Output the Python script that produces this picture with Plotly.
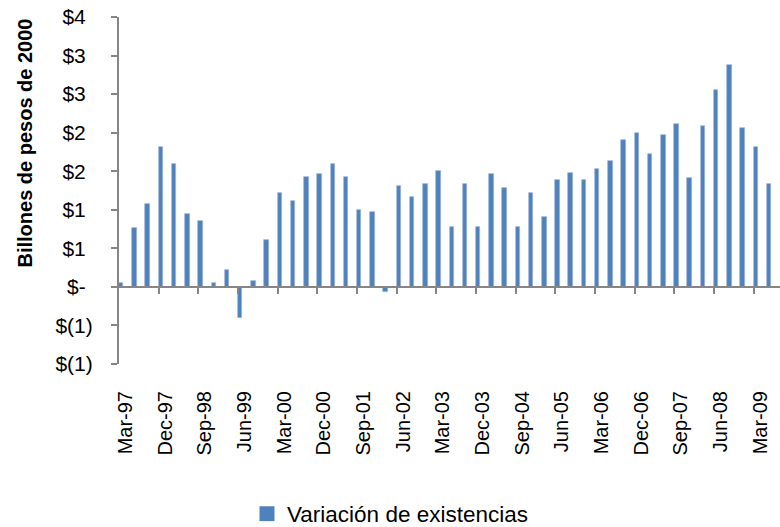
import plotly.graph_objects as go

quarters = [
    "Mar-97", "Jun-97", "Sep-97", "Dec-97", "Mar-98", "Jun-98", "Sep-98", "Dec-98",
    "Mar-99", "Jun-99", "Sep-99", "Dec-99", "Mar-00", "Jun-00", "Sep-00", "Dec-00",
    "Mar-01", "Jun-01", "Sep-01", "Dec-01", "Mar-02", "Jun-02", "Sep-02", "Dec-02",
    "Mar-03", "Jun-03", "Sep-03", "Dec-03", "Mar-04", "Jun-04", "Sep-04", "Dec-04",
    "Mar-05", "Jun-05", "Sep-05", "Dec-05", "Mar-06", "Jun-06", "Sep-06", "Dec-06",
    "Mar-07", "Jun-07", "Sep-07", "Dec-07", "Mar-08", "Jun-08", "Sep-08", "Dec-08",
    "Mar-09", "Jun-09",
]

variacion = [
    0.05, 0.76, 1.07, 1.82, 1.60, 0.95, 0.85, 0.05, 0.22, -0.40,
    0.08, 0.61, 1.22, 1.12, 1.43, 1.46, 1.60, 1.43, 1.00, 0.97,
    -0.06, 1.31, 1.16, 1.34, 1.50, 0.78, 1.34, 0.78, 1.46, 1.28,
    0.78, 1.22, 0.90, 1.38, 1.48, 1.38, 1.53, 1.63, 1.91, 1.99,
    1.72, 1.97, 2.11, 1.41, 2.09, 2.55, 2.88, 2.06, 1.82, 1.34,
]

x_tick_labels = quarters[::3]

y_tick_vals = [-1, -0.5, 0, 0.5, 1, 1.5, 2, 2.5, 3, 3.5]
y_tick_text = ["$(1)", "$(1)", "$-\u2004", "$1\u2004", "$1\u2004", "$2\u2004",
               "$2\u2004", "$3\u2004", "$3\u2004", "$4\u2004"]

series_name = "Variación de existencias"
y_title = "Billones de pesos de 2000"

BLUE = "#4F81BD"
AXIS = "#868686"
FONT = "Liberation Sans"

W, H = 780, 527
ML, MR, MT, MB = 119, 0, 17, 163
PW, PH = W - ML - MR, H - MT - MB

fig = go.Figure()

fig.add_trace(go.Bar(
    x=quarters, y=variacion, name=series_name,
    marker=dict(color=BLUE, line=dict(color="#9DB5DA", width=0.7)),
    width=0.34, offset=-0.5, showlegend=False,
))

# legend proxy
fig.add_trace(go.Scatter(
    x=[None], y=[None], mode="markers", name=series_name,
    marker=dict(symbol="square", size=15, color=BLUE),
))

# helper trace for the zero-crossing category axis ticks
fig.add_trace(go.Scatter(x=[], y=[], xaxis="x2", yaxis="y", showlegend=False,
                         hoverinfo="skip"))

n = len(quarters)
boundary_ticks = [i - 0.5 for i in range(3, n, 3)]

fig.update_layout(
    width=W, height=H,
    margin=dict(l=ML, r=MR, t=MT, b=MB, autoexpand=False),
    paper_bgcolor="white", plot_bgcolor="white",
    font=dict(family=FONT, color="black"),
    bargap=0,
    xaxis=dict(
        type="category", range=[-0.5, n - 0.5], automargin=False,
        tickmode="array", tickvals=x_tick_labels, ticktext=x_tick_labels,
        tickangle=-90, tickfont=dict(size=20, family=FONT),
        showline=False, showgrid=False, zeroline=False,
        ticks="", ticklabelstandoff=22,
    ),
    xaxis2=dict(
        overlaying="x", anchor="free", position=1 / 4.5, automargin=False,
        range=[-0.5, n - 0.5], showgrid=False, zeroline=False,
        showline=True, linecolor=AXIS, linewidth=2,
        ticks="outside", ticklen=6, tickwidth=2, tickcolor=AXIS,
        tickmode="array", tickvals=boundary_ticks, showticklabels=False,
    ),
    yaxis=dict(
        range=[-1, 3.5], automargin=False,
        tickmode="array", tickvals=y_tick_vals, ticktext=y_tick_text,
        tickfont=dict(size=21, family=FONT),
        showline=True, linecolor=AXIS, linewidth=2,
        ticks="outside", ticklen=6, tickwidth=2, tickcolor=AXIS,
        showgrid=False, zeroline=False, ticklabelstandoff=14,
    ),
    legend=dict(
        orientation="h", xref="container", yref="container",
        x=247 / W, xanchor="left",
        y=(H - 514) / H, yanchor="middle",
        font=dict(size=22.5, family=FONT),
    ),
    annotations=[dict(
        text="<b>" + y_title + "</b>", textangle=-90,
        xref="paper", yref="paper",
        x=(24 - ML) / PW, y=(MT + PH - 143.5) / PH,
        xanchor="center", yanchor="middle", showarrow=False,
        font=dict(size=20, family=FONT, color="black"),
    )],
)

fig.write_html(
    "out.html",
    config={"displayModeBar": False},
    post_script="document.body.style.margin='0';document.body.style.overflow='hidden';",
)
